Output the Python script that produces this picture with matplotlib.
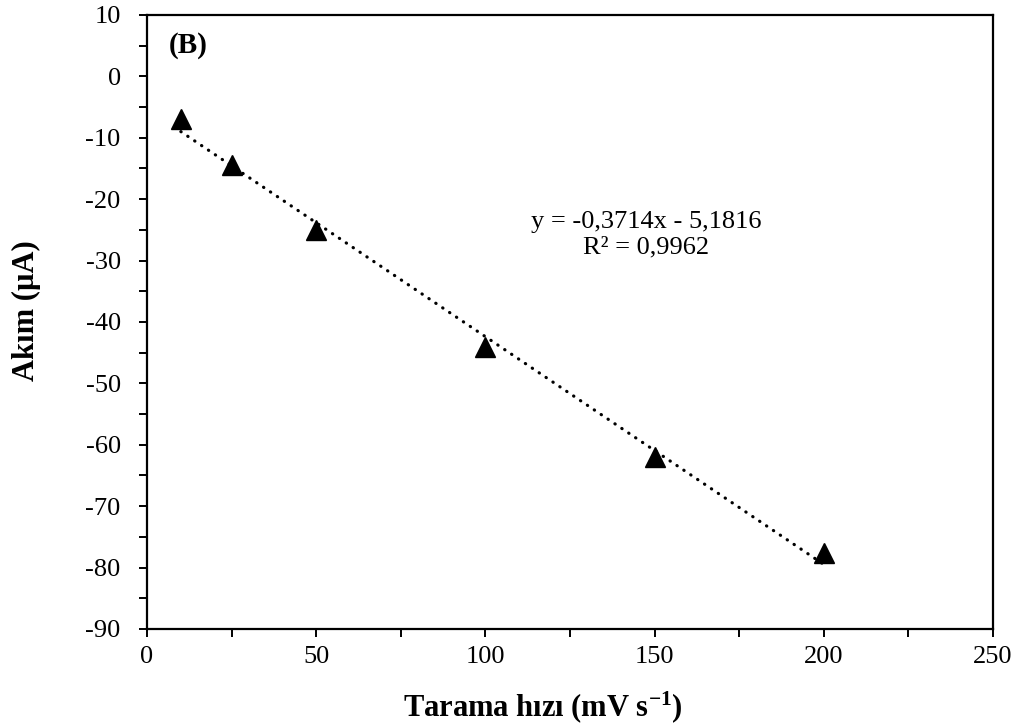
import numpy as np
import matplotlib
matplotlib.use("Agg")
import matplotlib.pyplot as plt
from matplotlib.ticker import MultipleLocator

scan_rate = [10, 25, 50, 100, 150, 200]
current = [-7.0, -14.5, -25.0, -44.0, -62.0, -77.7]
eq_text = "y = -0,3714x - 5,1816\nR² = 0,9962"

plt.rcParams['font.family'] = ['Liberation Serif', 'DejaVu Serif']
plt.rcParams['axes.unicode_minus'] = False
plt.rcParams['mathtext.default'] = 'regular'

fig = plt.figure(figsize=(10.21, 7.28), dpi=100)
ax = fig.add_axes([0.144, 0.136, 0.8286, 0.8434])

slope, intercept = np.polyfit(scan_rate, current, 1)
xf = np.array([min(scan_rate), max(scan_rate)])
ax.plot(xf, slope * xf + intercept, color='black', linestyle=(0, (0.1, 2.5)),
        dash_capstyle='round', linewidth=2.3, zorder=2)
ax.plot(scan_rate, current, linestyle='none', marker='^', markersize=14, color='black', zorder=3)

ax.set_xlim(0, 250)
ax.set_ylim(-90, 10)
ax.xaxis.set_major_locator(MultipleLocator(50))
ax.xaxis.set_minor_locator(MultipleLocator(25))
ax.yaxis.set_major_locator(MultipleLocator(10))
ax.yaxis.set_minor_locator(MultipleLocator(5))
ax.tick_params(which='both', direction='out', width=1.4, length=6, labelsize=19, color='black')
ax.tick_params(axis='x', which='major', pad=6)
ax.tick_params(axis='y', which='major', pad=13)
for s in ax.spines.values():
    s.set_linewidth(1.6)

fig.text(542.5 / 1021, 0.029, "Tarama hızı (mV s$^{-1}$)", fontsize=22, fontweight='bold',
         ha='center', va='center')
fig.text(0.0255, 0.573, "Akım (µA)", fontsize=22, fontweight='bold', rotation=90,
         ha='center', va='center')

ax.text(0.026, 0.972, "(B)", transform=ax.transAxes, fontsize=21, fontweight='bold', va='top', ha='left')
ax.text(0.59, 0.642, eq_text, transform=ax.transAxes, fontsize=19, ha='center', va='center', linespacing=1.2)

fig.savefig("out.png", dpi=100)
